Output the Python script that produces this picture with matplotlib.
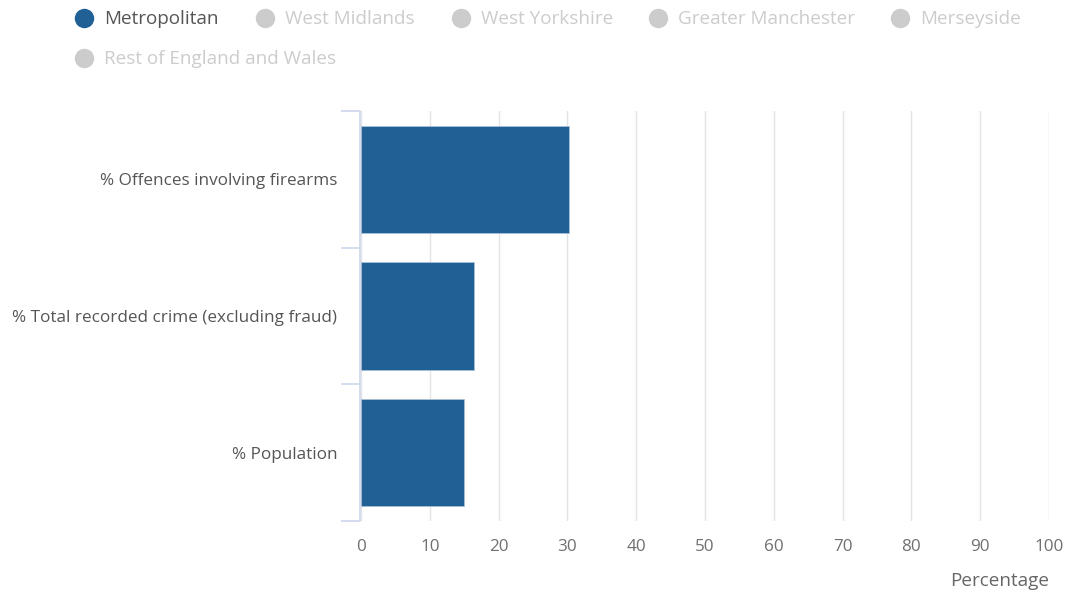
import matplotlib.pyplot as plt
from matplotlib.lines import Line2D

plt.rcParams['font.family'] = ['Open Sans', 'DejaVu Sans']

# Share of each measure accounted for by the Metropolitan force
categories = ['% Offences involving firearms',
              '% Total recorded crime (excluding fraud)',
              '% Population']
metropolitan = [30.2, 16.4, 15.0]

series_names = ['Metropolitan', 'West Midlands', 'West Yorkshire',
                'Greater Manchester', 'Merseyside', 'Rest of England and Wales']
visible = [True, False, False, False, False, False]

x_ticks = [0, 10, 20, 30, 40, 50, 60, 70, 80, 90, 100]

bar_color = '#206095'
axis_color = '#ccd6eb'
grid_color = '#e3e3e8'

W, H = 1068, 594
fig = plt.figure(figsize=(W / 100, H / 100), dpi=100)
ax = fig.add_axes([361 / W, 1 - 521 / H, (1049 - 361) / W, (521 - 111) / H])

pos = list(range(len(categories)))
ax.barh(pos, metropolitan, height=0.785, color=bar_color,
        edgecolor='#a8c0d6', linewidth=0.6, zorder=3)
ax.set_ylim(len(categories) - 0.5, -0.5)
ax.set_xlim(0, 100)

ax.set_xticks(x_ticks)
ax.set_xticklabels([str(t) for t in x_ticks])
ax.grid(axis='x', color=grid_color, linewidth=1, zorder=0)
ax.tick_params(axis='x', length=0, pad=13, labelsize=12.3, labelcolor='#707070')

ax.set_yticks(pos)
ax.set_yticklabels(categories)
ax.tick_params(axis='y', length=0, pad=16, labelsize=12.3, labelcolor='#555555')
# category boundary ticks on the left axis
ax.set_yticks([p - 0.5 for p in pos] + [len(pos) - 0.5], minor=True)
ax.tick_params(axis='y', which='minor', length=14, color=axis_color, width=1.2)

for side in ['top', 'right', 'bottom']:
    ax.spines[side].set_visible(False)
ax.spines['left'].set_color(axis_color)
ax.spines['left'].set_linewidth(1.2)
ax.spines['left'].set_position(('outward', 1))

fig.text(1049 / W, 1 - 581 / H, 'Percentage', ha='right', va='center',
         fontsize=13.6, color='#666666')

# legend, laid out in two rows
legend_x = [84, 265, 461, 658, 900, 84]
legend_y = [18, 18, 18, 18, 18, 58]
for name, on, lx, ly in zip(series_names, visible, legend_x, legend_y):
    c = bar_color if on else '#cccccc'
    tc = '#555555' if on else '#cccccc'
    fig.add_artist(Line2D([lx / W], [1 - ly / H], marker='o', markersize=14,
                          color=c, markeredgewidth=0, transform=fig.transFigure))
    fig.text((lx + 20) / W, 1 - (ly + 1) / H, name, ha='left', va='center',
             fontsize=13.6, color=tc)

fig.savefig('out.png', dpi=100, facecolor='white')
